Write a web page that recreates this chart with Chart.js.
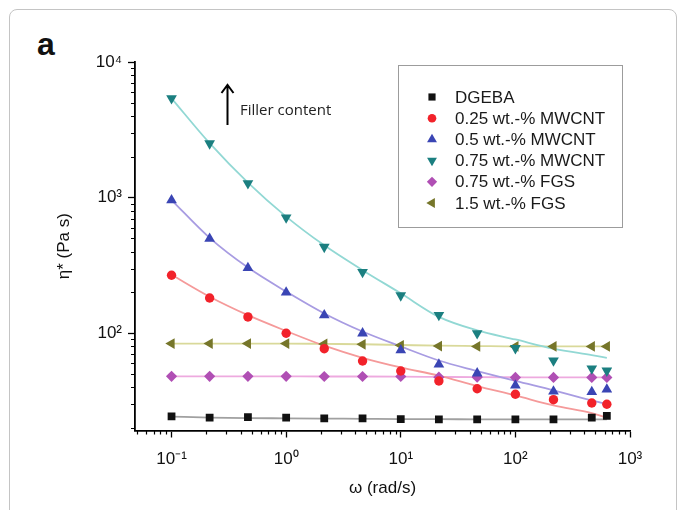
<!DOCTYPE html>
<html>
<head>
<meta charset="utf-8">
<script src="https://cdn.jsdelivr.net/npm/chart.js@4.4.1/dist/chart.umd.min.js"></script>
<style>
  html, body { margin: 0; padding: 0; background: #fff; }
  #wrap { position: relative; width: 683px; height: 510px; overflow: hidden; }
  #frame { position: absolute; left: 9px; top: 9px; width: 666px; height: 540px; border: 1px solid #c4c4c4; border-radius: 8px; }
  #panel { position: absolute; left: 37px; top: 26px; font: bold 32px "Liberation Sans", Arial, sans-serif; color: #111; }
  canvas { position: absolute; left: 0; top: 0; }
</style>
</head>
<body>
<div id="wrap">
  <div id="frame"></div>
  <div id="panel">a</div>
  <canvas id="myChart" width="683" height="510"></canvas>
</div>
<script>
// angular frequency (rad/s)
const omega = [0.1, 0.215, 0.464, 1, 2.15, 4.64, 10, 21.5, 46.4, 100, 215, 464, 628];

// complex viscosity (Pa s), measured points
const dgeba  = [24.4, 23.9, 24.1, 23.9, 23.6, 23.6, 23.3, 23.2, 23.2, 23.2, 23.2, 23.9, 24.6];
const mw025  = [268, 182, 132, 100, 77, 62.5, 52.7, 44.5, 39, 35.5, 32.4, 30.6, 30];
const mw05   = [959, 499, 303, 200, 136, 100, 75, 59, 50.7, 41.3, 37.3, 37, 38.5];
const mw075  = [5400, 2510, 1273, 714, 433, 283, 190, 136, 100, 77.6, 63, 55, 53];
const fgs075 = [48.2, 48.2, 48.2, 48.2, 48, 48, 48, 47.5, 47.5, 47.3, 47.3, 47.3, 47.3];
const fgs15  = [84, 84, 84, 84, 83.5, 83, 81.5, 80.5, 80, 80, 80, 80, 80];

// fitted curves at the same frequencies
const dgebaFit  = [24.3, 23.9, 23.7, 23.6, 23.5, 23.4, 23.3, 23.3, 23.2, 23.2, 23.2, 23.2, 23.2];
const mw025Fit  = [270, 186, 136, 104, 81, 66, 56, 48.7, 40.8, 34.8, 29.4, 25.8, 23.9];
const mw05Fit   = [960, 505, 305, 203, 140, 103, 80, 63, 52.7, 44.5, 38, 32, 30];
const mw075Fit  = [5400, 2520, 1290, 725, 445, 292, 197, 132, 105, 90, 77, 69, 66];
const fgs075Fit = [48.2, 48.2, 48.2, 48.1, 48, 48, 47.9, 47.7, 47.5, 47.4, 47.3, 47.3, 47.3];
const fgs15Fit  = [84, 84, 84, 84, 83.5, 83, 82, 81, 80.5, 80, 80, 80, 80];

const seriesNames = ['DGEBA', '0.25 wt.-% MWCNT', '0.5 wt.-% MWCNT', '0.75 wt.-% MWCNT', '0.75 wt.-% FGS', '1.5 wt.-% FGS'];

const xTickValues = [0.1, 1, 10, 100, 1000];
const yTickValues = [100, 1000, 10000];

const FONT = '"Liberation Sans", Arial, sans-serif';

function pts(ys) {
    return omega.map((x, i) => ({ x: x, y: ys[i] }));
}

const sup = { '-': '\u207B', '0': '\u2070', '1': '\u00B9', '2': '\u00B2', '3': '\u00B3', '4': '\u2074' };
function powLabel(v) {
    const e = String(Math.round(Math.log10(v)));
    return '10' + e.split('').map(c => sup[c]).join('');
}

function markers(label, ys, color, style, radius, rotation) {
    return {
        label: label,
        data: pts(ys),
        backgroundColor: color,
        borderColor: color,
        pointStyle: style,
        pointRadius: radius,
        pointRotation: rotation || 0,
        pointBorderWidth: 0,
        pointHoverRadius: radius,
        showLine: false,
        order: 1
    };
}

function fit(ys, color) {
    return {
        label: '',
        fit: true,
        data: pts(ys),
        borderColor: color,
        borderWidth: 1.8,
        pointRadius: 0,
        showLine: true,
        cubicInterpolationMode: 'monotone',
        order: 2
    };
}

const datasets = [
    markers(seriesNames[0], dgeba, '#111111', 'rect', 5.5),
    markers(seriesNames[1], mw025, '#f2222a', 'circle', 4.7),
    markers(seriesNames[2], mw05, '#3a45b4', 'triangle', 6.2),
    markers(seriesNames[3], mw075, '#1b7f80', 'triangle', 6.2, 180),
    markers(seriesNames[4], fgs075, '#b04fb4', 'rectRot', 5.6),
    markers(seriesNames[5], fgs15, '#76762a', 'triangle', 6.2, 270),
    fit(dgebaFit, '#a0a0a0'),
    fit(mw025Fit, '#f59a9a'),
    fit(mw05Fit, '#a89ce2'),
    fit(mw075Fit, '#92d8d4'),
    fit(fgs075Fit, '#eeaadf'),
    fit(fgs15Fit, '#d9d99a')
];

// short ticks between decades
const minorTicks = {
    id: 'minorTicks',
    afterDraw(chart) {
        const ctx = chart.ctx;
        const xs = chart.scales.x, ys = chart.scales.y;
        ctx.save();
        ctx.strokeStyle = '#000';
        ctx.lineWidth = 1.2;
        ctx.beginPath();
        for (let e = -2; e <= 4; e++) {
            for (let m = 2; m <= 9; m++) {
                const v = m * Math.pow(10, e);
                if (v > xs.min && v < xs.max) {
                    const px = Math.round(xs.getPixelForValue(v)) + 0.5;
                    ctx.moveTo(px, xs.top);
                    ctx.lineTo(px, xs.top + 4);
                }
                if (v > ys.min && v < ys.max) {
                    const py = Math.round(ys.getPixelForValue(v)) + 0.5;
                    ctx.moveTo(ys.right, py);
                    ctx.lineTo(ys.right - 4, py);
                }
            }
        }
        ctx.stroke();
        ctx.restore();
    }
};

// boxed legend inside the plot, and the "Filler content" arrow
const boxLegend = {
    id: 'boxLegend',
    afterDraw(chart) {
        const ctx = chart.ctx;
        ctx.save();
        ctx.fillStyle = '#fff';
        ctx.fillRect(399, 66, 223, 161);
        ctx.strokeStyle = '#9c9c9c';
        ctx.lineWidth = 1;
        ctx.strokeRect(398.5, 65.5, 224, 162);

        ctx.font = '17px ' + FONT;
        ctx.textBaseline = 'middle';
        let row = 0;
        chart.data.datasets.forEach(ds => {
            if (ds.fit) return;
            const y = 97 + row * 21.2;
            ctx.fillStyle = ds.backgroundColor;
            Chart.helpers.drawPoint(ctx, {
                pointStyle: ds.pointStyle,
                radius: ds.pointRadius * 0.92,
                rotation: ds.pointRotation,
                borderWidth: 0
            }, 432, y);
            ctx.fillStyle = '#1a1a1a';
            ctx.fillText(ds.label, 455, y + 1);
            row++;
        });

        // arrow
        ctx.strokeStyle = '#000';
        ctx.lineWidth = 2;
        ctx.beginPath();
        ctx.moveTo(227.5, 125);
        ctx.lineTo(227.5, 85);
        ctx.moveTo(221.5, 93);
        ctx.lineTo(227.5, 85);
        ctx.lineTo(233.5, 93);
        ctx.stroke();
        ctx.fillStyle = '#222';
        ctx.font = '15px "Open Sans", sans-serif';
        ctx.fillText('Filler content', 240, 111);
        ctx.restore();
    }
};

const ctx = document.getElementById('myChart');
new Chart(ctx, {
    type: 'scatter',
    data: { datasets: datasets },
    options: {
        responsive: false,
        animation: false,
        events: [],
        layout: { padding: { left: 50, right: 53, top: 62, bottom: 11 } },
        plugins: {
            legend: { display: false },
            tooltip: { enabled: false }
        },
        scales: {
            x: {
                type: 'logarithmic',
                min: 0.048,
                max: 1000,
                bounds: 'data',
                afterBuildTicks: s => { s.ticks = xTickValues.map(v => ({ value: v, major: true })); },
                afterFit: s => { s.height = 68.5; },
                ticks: {
                    callback: v => powLabel(v),
                    font: { family: FONT, size: 17 },
                    color: '#111',
                    padding: 12,
                    autoSkip: false,
                    maxRotation: 0
                },
                grid: { drawOnChartArea: false, drawTicks: true, tickLength: 7, tickColor: '#000', tickWidth: 1.3 },
                border: { display: true, color: '#000', width: 1.8 },
                title: {
                    display: true,
                    text: '\u03C9 (rad/s)',
                    font: { family: FONT, size: 17 },
                    color: '#111',
                    padding: { top: 4, bottom: 0 }
                }
            },
            y: {
                type: 'logarithmic',
                min: 19.2,
                max: 10000,
                bounds: 'data',
                afterBuildTicks: s => { s.ticks = yTickValues.map(v => ({ value: v, major: true })); },
                afterFit: s => { s.width = 85; },
                ticks: {
                    callback: v => powLabel(v),
                    font: { family: FONT, size: 17 },
                    color: '#111',
                    padding: 6,
                    autoSkip: false
                },
                grid: { drawOnChartArea: false, drawTicks: true, tickLength: 7, tickColor: '#000', tickWidth: 1.3 },
                border: { display: true, color: '#000', width: 1.8 },
                title: {
                    display: true,
                    text: '\u03B7* (Pa s)',
                    font: { family: FONT, size: 17 },
                    color: '#111',
                    padding: { top: 4, bottom: 0 }
                }
            }
        }
    },
    plugins: [minorTicks, boxLegend]
});
</script>
</body>
</html>
